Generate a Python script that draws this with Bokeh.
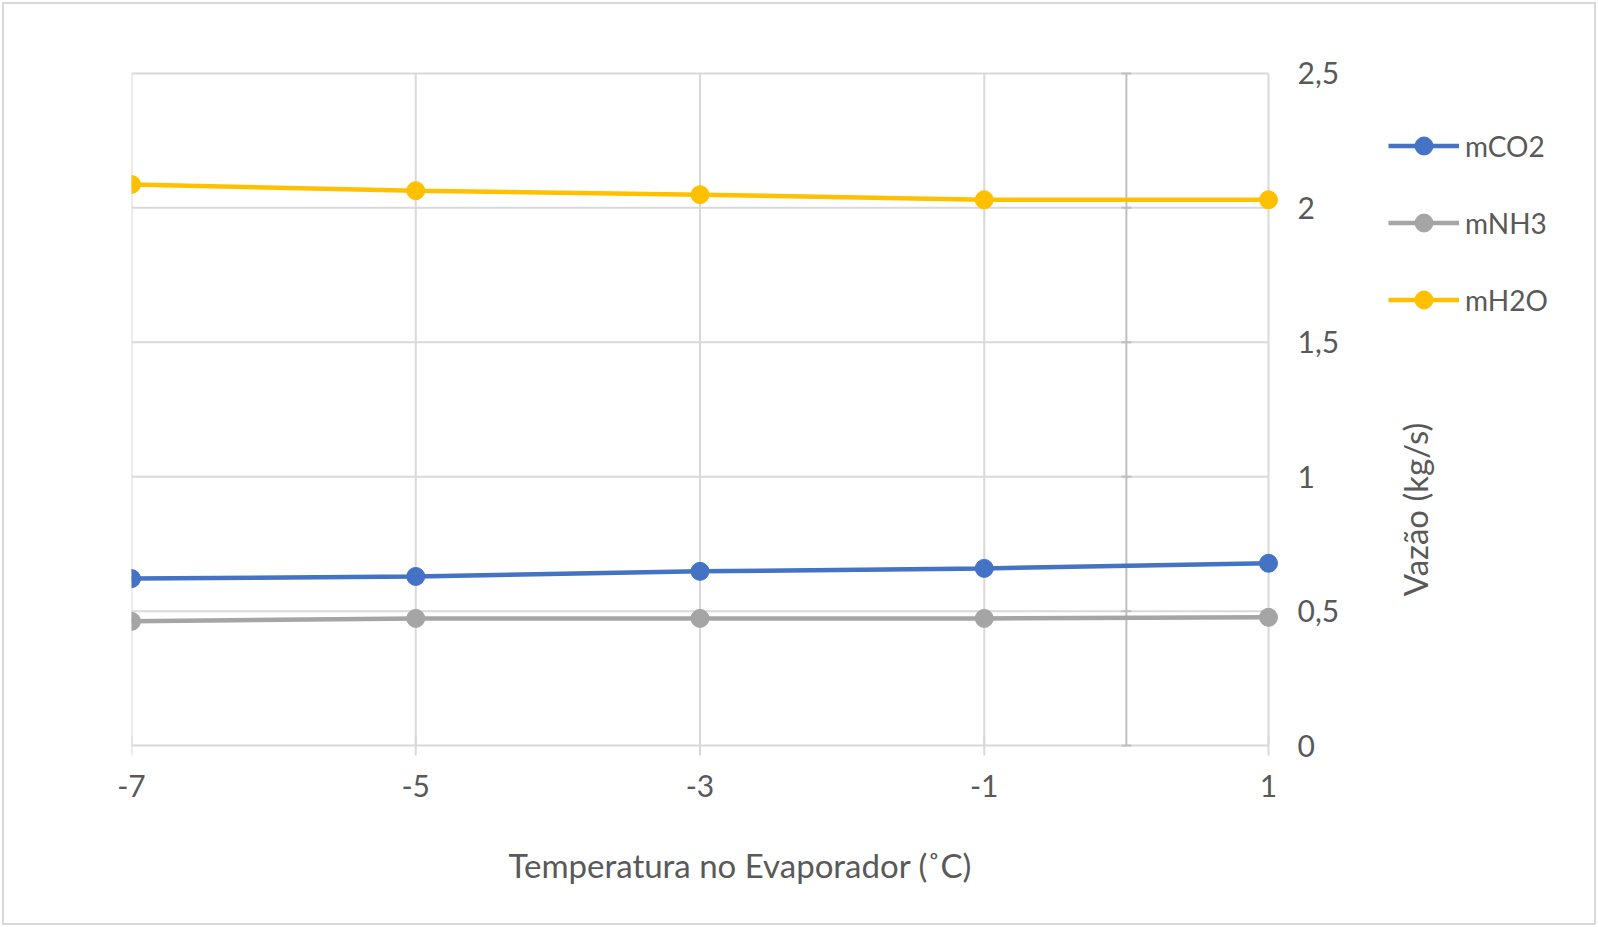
import math
from bokeh.plotting import figure
from bokeh.models import (FixedTicker, LinearAxis, Range1d, Legend, LegendItem,
                          ColumnDataSource, Label, Title)
from bokeh.core.properties import value
from bokeh.embed import file_html
from bokeh.resources import INLINE

# Data
temps = [-7, -5, -3, -1, 1]
m_co2 = [0.621, 0.629, 0.648, 0.659, 0.678]
m_nh3 = [0.462, 0.473, 0.473, 0.473, 0.477]
m_h2o = [2.087, 2.064, 2.049, 2.030, 2.030]
series_names = ["mCO2", "mNH3", "mH2O"]
series_colors = ["#4472C4", "#A5A5A5", "#FFC000"]
x_ticks = [-7, -5, -3, -1, 1]
x_tick_labels = ["-7", "-5", "-3", "-1", "1"]
y_ticks = [0, 0.5, 1, 1.5, 2, 2.5]
y_tick_labels = ["0", "0,5", "1", "1,5", "2", "2,5"]
x_title = "Temperatura no Evaporador (˚C)"
y_title = "Vazão (kg/s)"

FONT = "Lato"
TXT = "#595959"
GRID = "#D9D9D9"
AXIS = "#BFBFBF"

W, H = 1598, 927
DATA_L, DATA_R, DATA_T, DATA_B = 131, 1268, 73, 747   # pixel box of the data region
PAD = 20                                               # frame padding above / below
frame_w = W - DATA_L
x_lo, x_hi = x_ticks[0], x_ticks[-1]
y_lo, y_hi = y_ticks[0], y_ticks[-1]
x_end = x_hi + (frame_w - (DATA_R - DATA_L)) * (x_hi - x_lo) / (DATA_R - DATA_L)
y_pad = PAD * (y_hi - y_lo) / (DATA_B - DATA_T)

p = figure(width=W, height=H, output_backend="svg", toolbar_location=None,
           x_range=Range1d(x_lo, x_end), y_range=Range1d(y_lo - y_pad, y_hi + y_pad),
           min_border_left=DATA_L, min_border_top=DATA_T - PAD,
           min_border_bottom=H - DATA_B - PAD, min_border_right=0,
           x_axis_location=None, y_axis_location=None)
p.outline_line_color = None
p.background_fill_color = None
p.border_fill_color = None
p.xgrid.grid_line_color = None
p.ygrid.grid_line_color = None
# chart-area border (light grey frame 2px inside the page edge)
p.styles = {"background-color": "white",
            "box-shadow": "inset 0 0 0 2px white, inset 0 0 0 4px #D9D9D9"}

# X axis: only labels (line, ticks and grid drawn from the data values below)
xa = LinearAxis(ticker=FixedTicker(ticks=x_ticks))
xa.major_label_overrides = {t: l for t, l in zip(x_ticks, x_tick_labels)}
xa.axis_line_color = None
xa.major_tick_line_color = None
xa.minor_tick_line_color = None
xa.major_label_text_font = FONT
xa.major_label_text_font_size = "30px"
xa.major_label_text_color = TXT
xa.major_label_standoff = 3
p.add_layout(xa, "below")

# x axis title, centred under the data region
p.add_layout(Title(text=x_title, align="left", offset=377, standoff=86,
                   text_font=FONT, text_font_size="33px", text_font_style="normal",
                   text_color=TXT), "below")

# grid lines limited to the data region
p.segment(x0=[x_lo] * len(y_ticks), x1=[x_hi] * len(y_ticks), y0=y_ticks, y1=y_ticks,
          line_color=GRID, line_width=2)
p.segment(x0=x_ticks, x1=x_ticks, y0=[y_lo] * len(x_ticks), y1=[y_hi] * len(x_ticks),
          line_color=GRID, line_width=2)
# x tick marks
p.scatter(x=x_ticks, y=[y_lo] * len(x_ticks), marker="dash", angle=math.pi / 2, size=20,
          line_color=GRID, line_width=2)

# value axis crossing at x = 0
p.segment(x0=[0], x1=[0], y0=[y_lo], y1=[y_hi], line_color=AXIS, line_width=2)
p.scatter(x=[0] * len(y_ticks), y=y_ticks, marker="dash", size=10,
          line_color=AXIS, line_width=2)

# y tick labels on the right of the data region
p.text(x=[x_hi] * len(y_ticks), y=y_ticks, text=y_tick_labels, x_offset=29,
       text_align="left", text_baseline="middle", text_font=value(FONT),
       text_font_size="30px", text_color=TXT)

# y axis title
p.add_layout(Label(x=x_hi, y=256, y_units="screen", x_offset=146, text=y_title,
                   angle=math.pi / 2, text_align="center", text_baseline="middle",
                   text_font=FONT, text_font_size="33px", text_color=TXT))

items = []
for name, vals, col in zip(series_names, [m_co2, m_nh3, m_h2o], series_colors):
    src = ColumnDataSource(dict(x=temps, y=vals))
    r1 = p.line("x", "y", source=src, line_color=col, line_width=4.5)
    r2 = p.scatter("x", "y", source=src, size=18, fill_color=col, line_color=col)
    items.append(LegendItem(label=name, renderers=[r1, r2]))

legend = Legend(items=items, location=(1257, 443))
legend.border_line_color = None
legend.background_fill_alpha = 0
legend.padding = 0
legend.margin = 0
legend.glyph_width = 71
legend.glyph_height = 45
legend.spacing = 32
legend.label_standoff = 6
legend.label_text_font = FONT
legend.label_text_font_size = "28px"
legend.label_text_color = TXT
legend.label_height = 45
p.add_layout(legend, "center")

open("out.html", "w").write(file_html(p, INLINE))
